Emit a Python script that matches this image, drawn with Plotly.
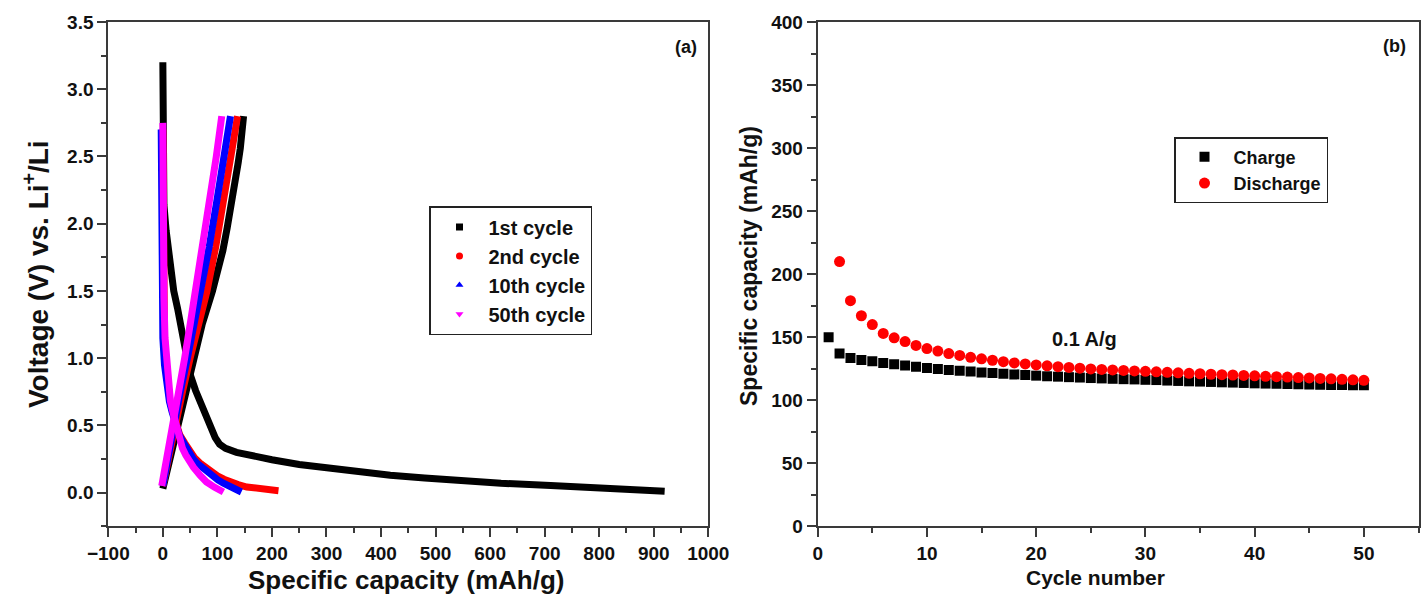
import plotly.graph_objects as go

# ---- (a) galvanostatic voltage profiles: capacity (mAh/g) vs voltage (V) ----
cyc1_dis_cap = [0, 0, 2, 6, 12, 20, 27, 33, 43, 50, 60, 72, 85, 96, 104, 115, 135, 165, 200,
                250, 290, 350, 417, 480, 543, 620, 711, 800, 880, 920]
cyc1_dis_v = [3.2, 2.2, 2.14, 1.95, 1.75, 1.5, 1.37, 1.25, 1.02, 0.88, 0.76, 0.64, 0.51, 0.41, 0.36,
              0.33, 0.30, 0.27, 0.245, 0.21, 0.19, 0.16, 0.13, 0.11, 0.09, 0.07, 0.054, 0.035, 0.02, 0.01]
cyc1_chg_cap = [0, 10, 25, 40, 55, 72, 91, 101, 110, 118, 125, 132, 138, 142, 145, 147, 148]
cyc1_chg_v = [0.03, 0.2, 0.5, 0.75, 1.0, 1.25, 1.5, 1.65, 1.8, 1.97, 2.17, 2.32, 2.45, 2.56, 2.65, 2.72, 2.8]

cyc2_dis_cap = [0, 0, 1, 3, 6, 9, 13, 18, 24, 31, 40, 48, 58, 68, 77, 90, 100, 112, 123, 138,
                154, 170, 190, 212]
cyc2_dis_v = [2.7, 1.8, 1.45, 1.15, 0.95, 0.8, 0.68, 0.6, 0.5, 0.43, 0.37, 0.31, 0.26, 0.22, 0.19,
              0.15, 0.125, 0.1, 0.08, 0.06, 0.042, 0.032, 0.022, 0.015]
cyc2_chg_cap = [0, 11, 22, 36, 50, 65, 81, 97, 112, 123, 131, 137]
cyc2_chg_v = [0.05, 0.28, 0.5, 0.75, 1.0, 1.25, 1.5, 1.83, 2.17, 2.45, 2.67, 2.8]

cyc10_dis_cap = [-3, -3, -2, 0, 3, 7, 12, 17, 23, 30, 38, 46, 56, 64, 71, 82, 92, 101, 111, 120,
                 128, 136, 144]
cyc10_dis_v = [2.7, 1.9, 1.45, 1.15, 0.95, 0.8, 0.68, 0.6, 0.5, 0.43, 0.37, 0.31, 0.25, 0.215, 0.19,
               0.15, 0.12, 0.095, 0.07, 0.05, 0.035, 0.02, 0.005]
cyc10_chg_cap = [0, 10, 20, 32, 45, 58, 71, 85, 99, 110, 118, 124]
cyc10_chg_v = [0.05, 0.28, 0.5, 0.75, 1.0, 1.25, 1.5, 1.83, 2.17, 2.45, 2.67, 2.8]

cyc50_dis_cap = [0, 0, 0.5, 2, 4, 7, 10, 14, 19, 25, 31, 36, 42, 49, 56, 68, 80, 95, 111]
cyc50_dis_v = [2.75, 2.2, 1.8, 1.45, 1.15, 0.95, 0.8, 0.68, 0.59, 0.48, 0.39, 0.33, 0.28, 0.23,
               0.19, 0.13, 0.08, 0.04, 0.005]
cyc50_chg_cap = [-2, 5, 12, 19, 30, 40, 50, 60, 72, 86, 98, 108]
cyc50_chg_v = [0.05, 0.2, 0.38, 0.54, 0.78, 1.0, 1.25, 1.5, 1.8, 2.17, 2.5, 2.8]

cycle_names = ["1st cycle", "2nd cycle", "10th cycle", "50th cycle"]
cycle_colors = ["#000000", "#ff0000", "#0000ff", "#ff00ff"]
cycle_symbols = ["square", "circle", "triangle-up", "triangle-down"]

# ---- (b) cycling performance at 0.1 A/g ----
charge_cycles = list(range(1, 51))
charge_cap = [150, 137, 133.5, 132, 131, 129.5, 128.5, 127.5, 126.5, 125.5,
              124.8, 124, 123.3, 122.7, 122, 121.5, 121, 120.5, 120, 119.5,
              119, 118.7, 118.3, 118, 117.6, 117.3, 117, 116.7, 116.5, 116.2,
              116, 115.6, 115.3, 115, 114.8, 114.5, 114.2, 114, 113.7, 113.4,
              113.2, 113, 112.8, 112.6, 112.4, 112.3, 112.1, 112, 111.9, 111.8]
discharge_cycles = list(range(2, 51))
discharge_cap = [210, 179, 167, 160, 153, 149.5, 146.5, 143.5, 141,
                 139, 137, 135.5, 134, 132.8, 131.7, 130.6, 129.6, 128.8, 128,
                 127.3, 126.6, 126, 125.4, 124.8, 124.4, 124, 123.6, 123.2, 122.9,
                 122.5, 122.1, 121.7, 121.3, 121, 120.6, 120.3, 120, 119.7, 119.4,
                 119, 118.7, 118.4, 118, 117.7, 117.3, 117, 116.6, 116.2, 115.8]

FONT = "Liberation Sans, Arial, sans-serif"
AXIS_COLOR = "#3a3a3a"

fig = go.Figure()

profiles = [
    (cyc1_dis_cap, cyc1_dis_v, cyc1_chg_cap, cyc1_chg_v),
    (cyc2_dis_cap, cyc2_dis_v, cyc2_chg_cap, cyc2_chg_v),
    (cyc10_dis_cap, cyc10_dis_v, cyc10_chg_cap, cyc10_chg_v),
    (cyc50_dis_cap, cyc50_dis_v, cyc50_chg_cap, cyc50_chg_v),
]
for (dc, dv, cc, cv), name, color, sym in zip(profiles, cycle_names, cycle_colors, cycle_symbols):
    for xs, ys in ((dc, dv), (cc, cv)):
        fig.add_trace(go.Scatter(
            x=xs, y=ys, mode="lines", line=dict(color=color, width=7),
            showlegend=False, legendgroup=name, xaxis="x", yaxis="y", hoverinfo="skip"))
    # legend key drawn as a small marker
    fig.add_trace(go.Scatter(
        x=[None], y=[None], mode="markers", name=name, legendgroup=name,
        marker=dict(color=color, symbol=sym, size=7), legend="legend",
        xaxis="x", yaxis="y"))

fig.add_trace(go.Scatter(
    x=charge_cycles, y=charge_cap, mode="markers", name="Charge",
    marker=dict(color="#000000", symbol="square", size=10),
    xaxis="x2", yaxis="y2", legend="legend2"))
fig.add_trace(go.Scatter(
    x=discharge_cycles, y=discharge_cap, mode="markers", name="Discharge",
    marker=dict(color="#ff0000", symbol="circle", size=11),
    xaxis="x2", yaxis="y2", legend="legend2"))

W, H = 1421, 599
def px_x(p):
    return p / W
def px_y(p):
    return 1 - p / H

axis_common = dict(
    showgrid=False, zeroline=False, showline=True, linecolor=AXIS_COLOR, linewidth=2,
    mirror=True, ticks="outside", ticklen=9, tickwidth=1.5, tickcolor=AXIS_COLOR,
    tickfont=dict(family=FONT, size=19, color="#111111", weight="bold"),
    automargin=False,
)
minor_common = dict(ticks="outside", ticklen=5, tickwidth=1.5, tickcolor=AXIS_COLOR, showgrid=False)

fig.update_layout(
    width=W, height=H, margin=dict(l=0, r=0, t=0, b=0),
    paper_bgcolor="white", plot_bgcolor="white",
    xaxis=dict(domain=[px_x(108.3), px_x(708.3)], range=[-100, 1000], dtick=100, tick0=0,
               minor=dict(dtick=50, **minor_common), anchor="y", **axis_common),
    yaxis=dict(domain=[px_y(526.3), px_y(22)], range=[-0.25, 3.5], dtick=0.5, tick0=0,
               tickformat=".1f", minor=dict(dtick=0.25, **minor_common), anchor="x", **axis_common),
    xaxis2=dict(domain=[px_x(817.7), px_x(1418.5)], range=[0, 55], tickvals=[0, 10, 20, 30, 40, 50],
                minor=dict(dtick=5, **minor_common), anchor="y2", **axis_common),
    yaxis2=dict(domain=[px_y(526.3), px_y(22)], range=[0, 400], dtick=50, tick0=0,
                minor=dict(dtick=25, **minor_common), anchor="x2", **axis_common),
    legend=dict(x=px_x(429), y=px_y(206), xanchor="left", yanchor="top",
                bgcolor="white", bordercolor="#222222", borderwidth=1.5,
                font=dict(family=FONT, size=20, color="#111111", weight="bold"),
                itemwidth=48, tracegroupgap=0),
    legend2=dict(x=px_x(1174), y=px_y(137), xanchor="left", yanchor="top",
                 bgcolor="white", bordercolor="#222222", borderwidth=1.5,
                 font=dict(family=FONT, size=18, color="#111111", weight="bold"),
                 itemwidth=48),
    showlegend=True,
)

ann_font = dict(family=FONT, color="#111111", weight="bold")
annotations = [
    dict(text="Specific capacity (mAh/g)", x=px_x(406), y=px_y(580), font=dict(size=26, **ann_font)),
    dict(text="Voltage (V) vs. Li<sup>+</sup>/Li", x=px_x(36), y=px_y(274), textangle=-90,
         font=dict(size=28, **ann_font)),
    dict(text="(a)", x=px_x(686), y=px_y(47), font=dict(size=18, **ann_font)),
    dict(text="Cycle number", x=px_x(1095), y=px_y(577), font=dict(size=21, **ann_font)),
    dict(text="Specific capacity (mAh/g)", x=px_x(749), y=px_y(266), textangle=-90,
         font=dict(size=23, **ann_font)),
    dict(text="(b)", x=px_x(1394), y=px_y(46), font=dict(size=18, **ann_font)),
    dict(text="0.1 A/g", x=px_x(1084), y=px_y(339), font=dict(size=20, **ann_font)),
]
for a in annotations:
    fig.add_annotation(xref="paper", yref="paper", showarrow=False,
                       xanchor="center", yanchor="middle", **a)

fig.write_html("out.html")
